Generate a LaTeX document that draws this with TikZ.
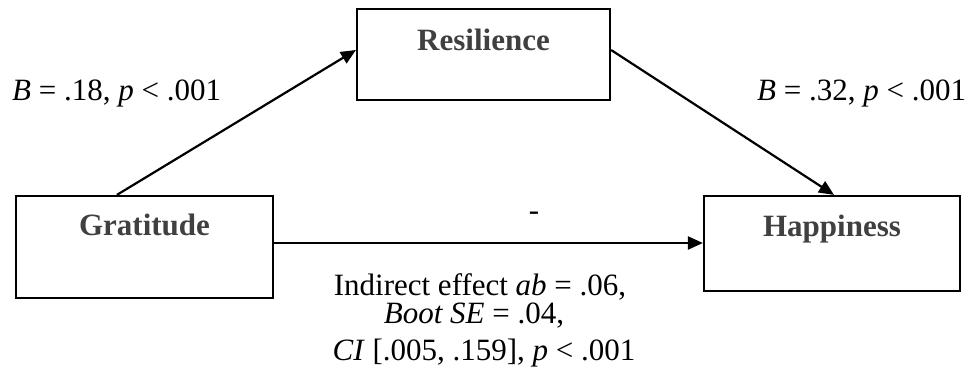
\documentclass[tikz,border=0pt]{standalone}
\usepackage{fontspec}
\setmainfont{Liberation Serif}
\usetikzlibrary{arrows.meta,calc}
\begin{document}
\begin{tikzpicture}[x=1pt,y=-1pt,
  box/.style={draw=black,line width=2.2pt,inner sep=0pt},
  boxtext/.style={font=\fontsize{31}{36}\selectfont\bfseries,text=black!75,anchor=base,inner sep=0pt},
  lab/.style={font=\fontsize{31}{36}\selectfont,anchor=base west,inner sep=0pt},
  labc/.style={font=\fontsize{31}{36}\selectfont,anchor=base,inner sep=0pt},
  arr/.style={line width=2.2pt,-{Triangle[length=15pt,width=13pt]}}]
\useasboundingbox (0,0) rectangle (978,383);
\node[box,minimum width=257pt,minimum height=102pt] (grat) at (144.5,247) {};
\node[box,minimum width=253pt,minimum height=91pt] (res) at (483.5,54.5) {};
\node[box,minimum width=256pt,minimum height=95pt] (hap) at (832,243.5) {};
\node[boxtext] (gratT) at (144.5,235) {Gratitude};
\node[boxtext] (resT) at (483.5,50) {Resilience};
\node[boxtext] (hapT) at (832,236) {Happiness};
\coordinate (a1s) at ($(grat.north west)+(102,0)$);
\coordinate (a1e) at ($(res.west)+(0,-4.5)$);
\draw[arr] (a1s) -- (a1e);
\coordinate (a2s) at ($(res.east)+(0,-4.5)$);
\coordinate (a2e) at ($(hap.north)+(2,0)$);
\draw[arr] (a2s) -- (a2e);
\coordinate (a3s) at ($(grat.east)+(0,-4)$);
\draw[arr] (a3s) -- (a3s -| hap.west);
\node[lab] (l1) at (12,100) {\textit{B} = .18, \textit{p} < .001};
\node[lab] (l2) at (757,100) {\textit{B} = .32, \textit{p} < .001};
\node[labc] (dash) at (534,220) {-};
\node[labc] (i1) at (480,295) {Indirect effect \textit{ab} = .06,};
\node[labc] (i2) at (474,323) {\textit{Boot SE} = .04,};
\node[labc] (i3) at (484,360) {\textit{CI} [.005, .159], \textit{p} < .001};
\end{tikzpicture}
\end{document}
